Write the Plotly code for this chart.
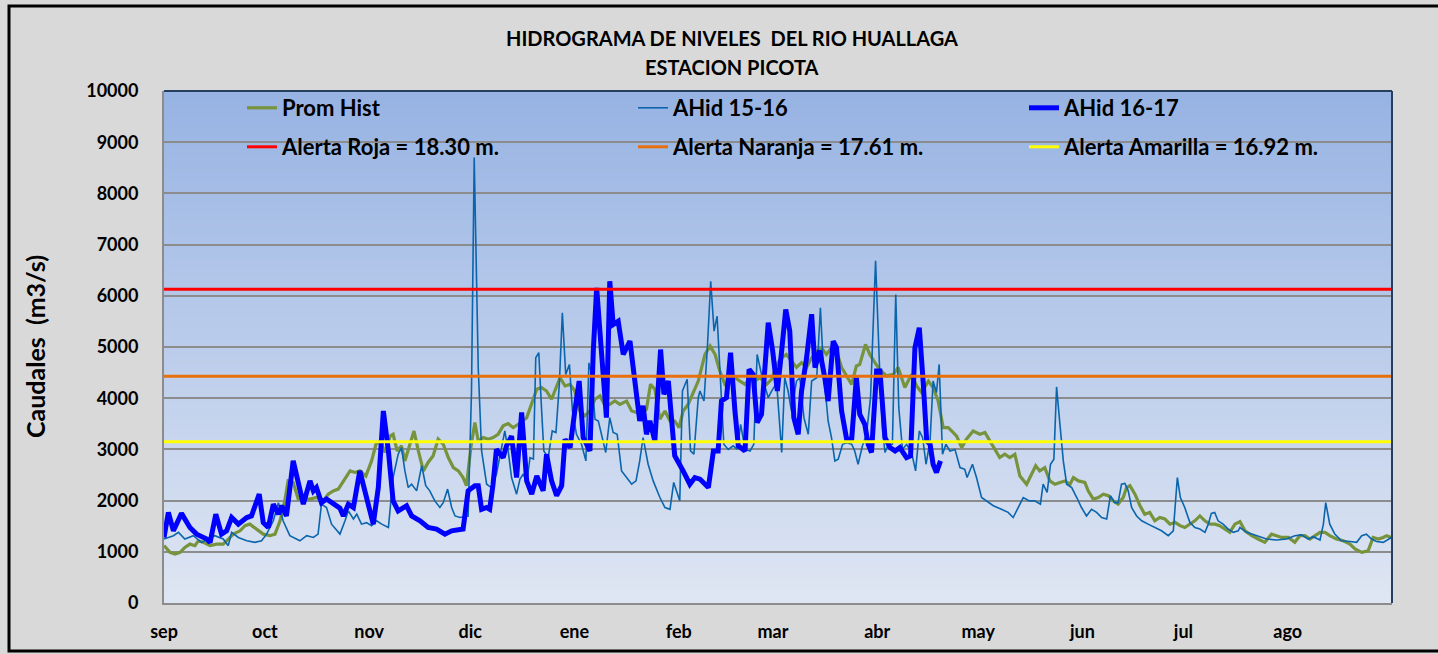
import base64
import struct
import zlib
import plotly.graph_objects as go

# ---------------- data ----------------
month_ticks = [0, 30, 61, 91, 122, 153, 181, 212, 242, 273, 303, 334]
month_labels = ["sep", "oct", "nov", "dic", "ene", "feb", "mar", "abr", "may", "jun", "jul", "ago"]

prom_days = [0, 1.8, 3.3, 4.8, 6.2, 7.7, 9.2, 10.2, 11.7, 13.7, 15.6, 17.6, 18.6, 20.6, 22.6, 24.1, 25.5, 27.5, 29.5, 31.5,
             33, 34.5, 35.9, 36.9, 38.4, 39.9, 41.4, 43.4, 45.3, 47.3, 48.8, 50.3, 51.8, 53.8, 55.3, 56.8, 58.2, 60, 61.7, 63,
             64.2, 65.7, 67.2, 68.1, 69.3, 70.6, 71.6, 73.1, 74.3, 75.6, 77.1, 78.5, 80, 81.5, 83, 84.5, 86, 87.5, 88.9, 89.9,
             91.2, 92.4, 93.4, 94.9, 96.4, 97.8, 99.3, 100.8, 102.3, 103.8, 105.3, 107.8, 109.3, 110.8, 112.2, 113.7, 115.2,
             116.7, 117.7, 119.2, 120.7, 122.1, 123.6, 125.1, 126.6, 128.1, 129.6, 131.1, 132.5, 134, 135.5, 137.5, 139,
             140.5, 142, 143.4, 144.6, 145.9, 147.4, 148.9, 150.4, 151.8, 153.1, 154.3, 155.8, 157.3, 158.8, 160.8, 162.3,
             163.8, 165.2, 166.7, 168.2, 169.7, 171.2, 172.7, 174.2, 175.6, 177.1, 179.1, 180.6, 182.1, 183.6, 185, 186.5,
             188, 189.5, 191, 192.5, 194, 195.4, 196.9, 198.4, 199.9, 201.4, 202.9, 204.4, 205.8, 206.8, 208.5, 209.8, 211.3,
             212.8, 214.8, 216.8, 218.2, 220.2, 222.2, 223.7, 225.2, 227.2, 228.6, 230.1, 231.6, 233.1, 234.1, 235.6, 237.1,
             238.5, 240.5, 242.5, 244, 245.5, 247, 248.4, 249.9, 251.4, 252.9, 254.4, 256.4, 257.9, 259.1, 260.3, 261.8,
             263.3, 264.8, 266.3, 267.8, 269.3, 270.3, 271.8, 273.7, 274.7, 276.2, 277.7, 279.2, 280.7, 282.1, 283.6, 285.1,
             286.1, 287.1, 288.6, 290.1, 291.5, 293, 294.5, 296, 297.5, 299, 300.5, 302, 303.4, 304.9, 306.4, 307.9, 309.4,
             310.9, 312.4, 313.8, 315.3, 316.8, 318.3, 319.8, 321.3, 323.3, 325.2, 327.2, 329.2, 330.7, 332.2, 334.2, 336.1,
             337.6, 339.1, 340.6, 342.1, 343.6, 345.1, 346.5, 348.5, 350.5, 352.5, 354, 356, 357.9, 359.4, 360.9, 362.4,
             363.4, 364.8]
prom_q = [1120, 990, 955, 990, 1085, 1150, 1120, 1215, 1185, 1120, 1150, 1150, 1215, 1345, 1410, 1510, 1540, 1445, 1345, 1315,
          1345, 1605, 1995, 2385, 2355, 2030, 2030, 2030, 2060, 1995, 2125, 2190, 2225, 2420, 2580, 2550, 2580, 2480, 2775, 3100,
          3165, 2940, 3260, 3295, 2970, 3070, 2775, 3100, 3360, 2970, 2580, 2745, 2875, 3200, 3100, 2840, 2645, 2580, 2450, 2290,
          3035, 3525, 3165, 3230, 3200, 3230, 3295, 3460, 3505, 3425, 3490, 3620, 3880, 4175, 4210, 4140, 3980,
          4240, 4400, 4240, 4270, 4140, 3750, 3655, 3750, 3980, 4045, 3850, 3880, 3945, 3880, 3945, 3750,
          3720, 3685, 3785, 4270, 4175, 3590, 3750, 3555, 3555, 3425, 3750, 3880, 4110, 4335, 4855, 5020,
          4855, 4530, 4270, 4335, 4400, 4335, 4270, 4400, 4335, 4400, 4270, 4370, 4660, 4790, 4855, 4725,
          4600, 4695, 4600, 4790, 4920, 4985, 4855, 4985, 4920, 4600, 4435, 4270, 4630, 4660, 5050, 4855, 4695,
          4550, 4435, 4465, 4600, 4210, 4465, 4240, 4110, 4335, 4210, 3945, 3425, 3425, 3360, 3260, 3035,
          3200, 3360, 3295, 3330, 3165, 2970, 2840, 2905, 2840, 2905, 2480, 2320, 2515, 2680, 2580, 2645,
          2385, 2320, 2355, 2385, 2320, 2450, 2385, 2355, 2190, 2030, 2060, 2125, 2095, 1995, 1930, 2060,
          2255, 2290, 2125, 1900, 1735, 1770, 1605, 1670, 1640, 1540, 1575, 1510, 1475, 1540, 1605, 1700, 1605,
          1540, 1540, 1510, 1445, 1380, 1540, 1590, 1410, 1315, 1250, 1185, 1345, 1315, 1280, 1280, 1185,
          1315, 1315, 1250, 1315, 1380, 1380, 1315, 1250, 1215, 1150, 1055, 990, 1020, 1280, 1250, 1280,
          1315, 1280]

ah1516_days = [0, 2.8, 4.3, 6.2, 8.7, 11.2, 13.7, 15.1, 17.6, 19.1, 20.1, 22.1, 24.6, 27, 29, 30.5, 32.5, 34, 35.4, 37.4,
               40.4, 42.4, 44.4, 45.8, 46.8, 48.3, 49.8, 51.3, 52.3, 53.8, 54.8, 56.3, 57.3, 58.7, 60.2, 61.7, 63.2, 64.7,
               66.7, 68.1, 69.6, 70.6, 71.6, 72.6, 73.6, 75.1, 76.6, 77.8, 79, 80.5, 82, 83, 84.3, 85.5, 86.5, 88, 90.4,
               91.4, 92.2, 93.4, 94.4, 95.9, 97.3, 98.8, 100.3, 101.3, 102.3, 103.3, 104.8, 105.8, 106.8, 107.8, 108.8,
               109.8, 110.5, 111.4, 112.2, 112.9, 114.2, 115.4, 116.5, 117.5, 118.4, 119.4, 120.5, 121.4, 122.6, 124.1,
               125.4, 126.3, 127.1, 128.1, 129.1, 130.1, 131.3, 132.5, 133.5, 134.7, 136, 137.5, 139, 140.3, 141.4, 142.4,
               143.9, 145.4, 147.4, 148.9, 150.4, 151.5, 153.3, 154.1, 155.5, 156.5, 157.5, 158.8, 159.3, 160.5, 161.5,
               162.5, 163.5, 164.4, 165.4, 166.4, 167.7, 169.2, 170.4, 171.4, 172.7, 174.2, 175.3, 176.3, 177.6, 178.6,
               179.6, 180.6, 182.1, 183.6, 184.5, 185.5, 186.5, 188, 189, 190.2, 191.5, 192.5, 194, 195.1, 196.1, 197.4,
               198.4, 199.4, 200.4, 201.7, 202.9, 204.4, 205.3, 206.3, 207.6, 208.8, 210, 211.5, 212.5, 212.8, 213.6,
               214.3, 215.3, 216.5, 217.5, 218.4, 219.5, 220.7, 222.2, 223.4, 224.5, 225.5, 226.5, 227.7, 228.6, 229.6,
               230.4, 231.4, 232.4, 233.6, 235.1, 236.6, 238, 238.7, 240.3, 241.5, 243, 244.5, 246.5, 248.9, 250.9, 252.4,
               253.9, 255.4, 257.2, 258.8, 260.5, 261.3, 262.5, 263.5, 264.5, 265.3, 266.3, 267.3, 268.3, 269.8, 271.3,
               272.7, 274.2, 275.7, 277.2, 278.7, 280.2, 281.3, 282.6, 283.6, 284.6, 285.6, 286.6, 287.6, 289.1, 290.6,
               292.5, 294.5, 296.5, 298.5, 300, 301.2, 302.1, 303.4, 304.9, 306.4, 307.9, 309.4, 310.4, 311.3, 312.3,
               313.3, 314.8, 316.3, 317.8, 319.3, 319.8, 321.8, 324.8, 327.7, 330.7, 333.7, 336.1, 338.1, 340.1, 341.6,
               343.6, 344.6, 345.3, 346.5, 348, 350, 352.5, 354.5, 356, 357.4, 358.9, 360.4, 362.4, 363.9, 364.8]
ah1516_q = [1250, 1315, 1380, 1250, 1315, 1180, 1280, 1315, 1250, 1120, 1380, 1280, 1215, 1185, 1215, 1345, 1605, 1960, 1605, 1315,
            1215, 1315, 1280, 1345, 1930, 1865, 1540, 1410, 1345, 1605, 1800, 1640, 1735, 1540, 1570, 1510, 1605, 1540,
            1475, 2450, 2905, 3035, 2580, 2255, 2320, 2190, 2680, 2290, 2190, 1995, 1865, 1960, 2225, 1865, 1700, 1670, 1700,
            4140, 8700, 4600, 2970, 2320, 2255, 2515, 3035, 3360, 2970, 2450, 2125, 2420, 2520, 2355, 2840,
            2810, 4790, 4890, 3815, 2970, 2840, 3360, 3330, 4270, 5670, 4465, 4660, 3750, 3295, 3100,
            2775, 4690, 4465, 3590, 3555, 3295, 2940, 3620, 3330, 3295, 2580, 2450, 2320, 2385, 2775, 3230,
            2710, 2385, 2060, 1865, 1830, 2355, 1995, 4140, 4370, 2970, 2905, 4010, 4140, 3945, 4985,
            6285, 5310, 5600, 4270, 3100, 3000, 3070, 3000, 3490, 3000, 2970, 3100, 4855, 4465, 4240,
            4010, 4140, 4300, 2940, 4400, 4140, 3750, 4335, 4400, 3620, 3295, 4335, 4400, 5765, 4465, 3555,
            3230, 2775, 2810, 3100, 3130, 3100, 2970, 2710, 3070, 3295, 4010, 6685, 4660, 4400, 3360,
            2940, 3100, 3100, 6025, 3815, 3000, 3100, 2940, 2580, 3360, 3230, 2710, 3165, 4335, 4110,
            4660, 2905, 3100, 2970, 3000, 2645, 2610, 2450, 2710, 2450, 2060, 1995, 1900, 1830, 1770, 1670,
            1865, 2060, 1995, 1995, 1930, 2320, 2160, 2710, 2810, 4220, 3490, 2775, 2320, 2255, 2060,
            1865, 1700, 1830, 1770, 1670, 1640, 2095, 1960, 1960, 2320, 2335, 2190, 1865, 1700, 1605,
            1540, 1475, 1410, 1315, 1410, 2450, 2060, 1865, 1575, 1475, 1445, 1380, 1540, 1750, 1770,
            1605, 1540, 1445, 1380, 1410, 1475, 1380, 1315, 1250, 1230, 1250, 1315, 1330, 1250, 1295,
            1230, 1540, 1960, 1540, 1345, 1215, 1200, 1185, 1315, 1345, 1250, 1200, 1185, 1250, 1280]

ah1617_days = [0, 1.3, 2.8, 5.2, 7.7, 9.7, 12.7, 13.7, 15.4, 17.1, 18.6, 20.1, 22.1, 24.6, 26, 28.3, 29.5, 31, 32.5, 34, 35,
               36.4, 38.4, 39.9, 41.4, 43.4, 44.4, 45.3, 46.8, 48.3, 50.3, 52.3, 53.3, 54.8, 56.3, 58.2, 59.7, 62.2, 63.7,
               65.2, 66.7, 68.1, 69.6, 72.1, 73.6, 76.1, 78.5, 81, 83.5, 85.5, 88.9, 90.4, 92.4, 93.4, 94.4, 95.9, 96.8,
               97.8, 98.8, 100.8, 101.8, 103.3, 104.8, 106.3, 107.8, 109.3, 110.8, 112.7, 113.7, 115.2, 116.7, 118.2,
               119.2, 120.7, 122.1, 123.4, 124.6, 126.6, 127.6, 128.6, 130, 131.5, 132.5, 133.5, 135, 136.5, 138.5, 140,
               141.4, 142.4, 143.4, 144.4, 145.9, 147.6, 148.6, 149.9, 151.8, 154.3, 156.3, 157.8, 159.3, 161.8, 163.3,
               164.7, 165.7, 167.2, 168.4, 169.7, 170.7, 172.7, 173.9, 175.1, 176.3, 177.6, 179.6, 180.9, 182.3, 183.6,
               184.8, 186, 187.2, 188.5, 189.5, 191, 192.5, 193.5, 194.9, 196.4, 197.4, 198.9, 199.9, 201.4, 202.9,
               204.4, 205.8, 206.8, 208.3, 209.3, 210.3, 211.8, 212.8, 214.3, 215.8, 217.3, 218.7, 220.7, 221.9, 223.2,
               224.5, 225.7, 226.7, 227.7, 228.6, 229.6, 230.8]
ah1617_q = [1280, 1770, 1410, 1750, 1475, 1345, 1250, 1180, 1735, 1345, 1410, 1670, 1540, 1670, 1700, 2125, 1570, 1475, 1930, 1735, 1900,
            1700, 2775, 2350, 1930, 2385, 2190, 2255, 1960, 2030, 1930, 1850, 1700, 1930, 1865, 2580, 2190, 1540, 2255,
            3750, 2970, 1995, 1800, 1900, 1700, 1605, 1475, 1445, 1345, 1410, 1445, 2190, 2290, 2290, 1830, 1865, 1830,
            2320, 3000, 2840, 3070, 3260, 2450, 3720, 2385, 2125, 2480, 2190, 2905, 2385, 2095, 2290,
            3200, 3035, 3750, 4335, 3230, 2970, 4930, 6155, 4930, 3620, 6285, 5440, 5505, 4855, 5115, 4335,
            3555, 3850, 3295, 3555, 3165, 4950, 4075, 4335, 2875, 2580, 2320, 2450, 2420, 2255, 2970,
            2970, 3945, 4010, 4890, 3750, 3070, 2970, 4565, 4465, 3525, 3685, 5475, 4930, 4140, 4930,
            5735, 5310, 3620, 3295, 4140, 4790, 5640, 4600, 4930, 4400, 3945, 5115, 4985, 3750, 3200,
            3200, 4400, 3685, 3490, 3100, 2940, 4530, 4530, 3230, 3035, 2970, 3035, 2840, 2875, 4985,
            5375, 4270, 3165, 3100, 2710, 2550, 2775]

alert_names = ["Alerta Roja = 18.30 m.", "Alerta Naranja = 17.61 m.", "Alerta Amarilla = 16.92 m."]
alert_q = [6130, 4430, 3150]
alert_colors = ["#ff0000", "#e8700c", "#ffff00"]
year_span = [0, 365]


# ---------------- helpers ----------------
def gradient_png(top, bottom, n=256, w=4):
    raw = b""
    for i in range(n):
        t = i / (n - 1)
        px = bytes(round(top[k] + (bottom[k] - top[k]) * t) for k in range(3))
        raw += b"\x00" + px * w

    def chunk(tag, data):
        c = struct.pack(">I", len(data)) + tag + data
        return c + struct.pack(">I", zlib.crc32(tag + data) & 0xFFFFFFFF)

    png = (b"\x89PNG\r\n\x1a\n"
           + chunk(b"IHDR", struct.pack(">IIBBBBB", w, n, 8, 2, 0, 0, 0))
           + chunk(b"IDAT", zlib.compress(raw))
           + chunk(b"IEND", b""))
    return "data:image/png;base64," + base64.b64encode(png).decode()


FONT = "Lato"
W, H = 1438, 654
L, R, T, B = 164, 46, 91, 51
PW, PH = W - L - R, H - T - B


def px_x(p):
    return (p - L) / PW


def px_y(p):
    return (H - B - p) / PH


fig = go.Figure()

fig.add_trace(go.Scatter(x=prom_days, y=prom_q, mode="lines", name="Prom Hist",
                         line=dict(color="#77933c", width=3.2), legend="legend"))
fig.add_trace(go.Scatter(x=ah1516_days, y=ah1516_q, mode="lines", name="AHid 15-16",
                         line=dict(color="#0b65ad", width=1.6), legend="legend"))
fig.add_trace(go.Scatter(x=ah1617_days, y=ah1617_q, mode="lines", name="AHid 16-17",
                         line=dict(color="#0000ff", width=5), legend="legend"))
for nm, q, c in zip(alert_names, alert_q, alert_colors):
    fig.add_trace(go.Scatter(x=year_span, y=[q, q], mode="lines", name=nm,
                             line=dict(color=c, width=3), legend="legend2"))

legend_font = dict(family=FONT, size=22, color="black", weight="bold")
fig.update_layout(
    width=W, height=H,
    margin=dict(l=L, r=R, t=T, b=B, pad=0, autoexpand=False),
    paper_bgcolor="#d9d9d9",
    plot_bgcolor="#dde5f2",
    showlegend=True,
    legend=dict(orientation="h", x=px_x(242), y=px_y(87), xanchor="left", yanchor="top",
                entrywidth=346, entrywidthmode="pixels", bgcolor="rgba(0,0,0,0)",
                font=legend_font, traceorder="normal"),
    legend2=dict(orientation="h", x=px_x(242), y=px_y(126), xanchor="left", yanchor="top",
                 entrywidth=346, entrywidthmode="pixels", bgcolor="rgba(0,0,0,0)",
                 font=legend_font, traceorder="normal"),
    xaxis=dict(range=[0, 365], tickvals=month_ticks, ticktext=month_labels, automargin=False,
               showgrid=False, zeroline=False, showline=True, linecolor="#8c8c8c", linewidth=2,
               ticks="", ticklabelstandoff=11,
               tickfont=dict(family=FONT, size=18, color="black", weight="bold")),
    yaxis=dict(range=[0, 10000], tickvals=list(range(0, 10001, 1000)), tickformat="d", automargin=False,
               showgrid=True, gridcolor="#8c8c8c", gridwidth=1.5, zeroline=False,
               showline=True, linecolor="#8c8c8c", linewidth=2,
               ticks="", ticklabelstandoff=20,
               tickfont=dict(family=FONT, size=18, color="black", weight="bold")),
    images=[dict(source=gradient_png((151, 179, 227), (223, 230, 243)),
                 xref="x domain", yref="y domain", x=0, y=1, sizex=1, sizey=1,
                 xanchor="left", yanchor="top", sizing="stretch", layer="below")],
    shapes=[
        dict(type="line", xref="paper", yref="paper", x0=0, x1=1, y0=1, y1=1,
             line=dict(color="#243f60", width=2)),
        dict(type="line", xref="paper", yref="paper", x0=1, x1=1, y0=0, y1=1,
             line=dict(color="#243f60", width=2)),
        dict(type="rect", xref="paper", yref="paper",
             x0=px_x(9), x1=px_x(1441), y0=px_y(651), y1=px_y(6),
             line=dict(color="black", width=3), fillcolor="rgba(0,0,0,0)"),
    ],
    annotations=[
        dict(text="HIDROGRAMA DE NIVELES  DEL RIO HUALLAGA", xref="paper", yref="paper",
             x=px_x(732), y=px_y(38), xanchor="center", yanchor="middle", showarrow=False,
             font=dict(family=FONT, size=20, color="black", weight="bold")),
        dict(text="ESTACION PICOTA", xref="paper", yref="paper",
             x=px_x(732), y=px_y(67), xanchor="center", yanchor="middle", showarrow=False,
             font=dict(family=FONT, size=20, color="black", weight="bold")),
        dict(text="Caudales  (m3/s)", xref="paper", yref="paper", textangle=-90,
             x=px_x(35), y=px_y(347), xanchor="center", yanchor="middle", showarrow=False,
             font=dict(family=FONT, size=25, color="black", weight="bold")),
    ],
)

fig.write_html("out.html", config={"displayModeBar": False},
               post_script="document.body.style.margin='0px';document.body.style.overflow='hidden';")
